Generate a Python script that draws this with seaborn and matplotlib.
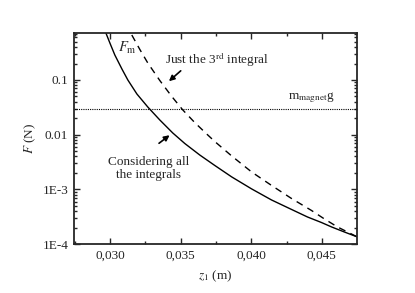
import matplotlib
matplotlib.use("Agg")
import matplotlib.pyplot as plt
import matplotlib.ticker as mticker
import numpy as np
import pandas as pd
import seaborn as sns

# values (z1 in m, F in N)
z_all = [0.02972, 0.03000, 0.03035, 0.03085, 0.03127, 0.03191, 0.03268,
         0.03353, 0.03445, 0.03530, 0.03636, 0.03742, 0.03862, 0.04003,
         0.04144, 0.04285, 0.04398, 0.04497, 0.04568, 0.04660, 0.04751]
f_all = [0.72, 0.474, 0.286, 0.159, 0.100, 0.0555, 0.0321,
         0.0186, 0.01074, 0.00690, 0.00425, 0.00274, 0.00169, 0.00102,
         0.00064, 0.00043, 0.000313, 0.000248, 0.000206, 0.000166, 0.000135]

z_third = [0.03155, 0.03212, 0.03268, 0.03353, 0.03438, 0.03516, 0.03600,
           0.03685, 0.03742, 0.03862, 0.04003, 0.04144, 0.04285, 0.04427,
           0.04518, 0.04610, 0.04751]
f_third = [0.665, 0.361, 0.205, 0.098, 0.0499, 0.0283, 0.0167,
           0.0103, 0.00751, 0.00408, 0.00208, 0.00118, 0.000682, 0.000411,
           0.000288, 0.000206, 0.000135]

m_magnet_g = 0.0295

y_ticks = [1e-4, 1e-3, 1e-2, 1e-1]
y_tick_labels = ["1E-4", "1E-3", "0.01", "0.1"]
x_ticks = [0.030, 0.035, 0.040, 0.045]
x_tick_labels = ["0,030", "0,035", "0,040", "0,045"]

df = pd.concat([
    pd.DataFrame({"z": z_all, "F": f_all, "curve": "all"}),
    pd.DataFrame({"z": z_third, "F": f_third, "curve": "third"}),
])

sns.set_style("ticks")
plt.rcParams["font.family"] = ["Liberation Serif", "DejaVu Serif"]
plt.rcParams["mathtext.fontset"] = "stix"

fs = 9.5
fig = plt.figure(figsize=(4.15, 2.93), dpi=100)
ax = fig.add_axes([0.178, 0.167, 0.682, 0.720])

sns.lineplot(data=df[df.curve == "all"], x="z", y="F", color="black",
             linewidth=1.0, ax=ax, legend=False)
sns.lineplot(data=df[df.curve == "third"], x="z", y="F", color="black",
             linewidth=1.0, ax=ax, legend=False)
ax.lines[1].set_dashes([5, 4])
ax.axhline(m_magnet_g, color="black", linestyle=(0, (1, 1)), linewidth=0.8)

ax.set_yscale("log")
ax.set_xlim(0.02745, 0.04748)
ax.set_ylim(1e-4, 0.72)

ax.set_yticks(y_ticks)
ax.set_yticklabels(y_tick_labels)
ax.yaxis.set_minor_locator(mticker.LogLocator(base=10, subs=np.arange(2, 10)))
ax.yaxis.set_minor_formatter(mticker.NullFormatter())
ax.set_xticks(x_ticks)
ax.set_xticklabels(x_tick_labels)
ax.xaxis.set_minor_locator(mticker.MultipleLocator(0.0025))

ax.tick_params(which="both", direction="in", top=True, right=True,
               labelsize=fs, width=1.0, pad=4)
ax.tick_params(which="major", length=4)
ax.tick_params(which="minor", length=2)
for s in ax.spines.values():
    s.set_linewidth(1.3)

ax.set_xlabel("$z_1$ (m)", fontsize=fs, labelpad=5)
ax.set_ylabel("$F$ (N)", fontsize=fs, labelpad=3)

ax.text(0.03056, 0.325, "$F_\\mathrm{m}$", fontsize=fs + 1, va="baseline")
ax.text(0.03388, 0.196, "Just the 3$^{\\rm rd}$ integral", fontsize=fs,
        va="baseline")
ax.text(0.04257, 0.045, "m$_\\mathrm{magnet}$g", fontsize=fs, va="baseline")
ax.text(0.03275, 0.00241, "Considering all\nthe integrals", fontsize=fs,
        ha="center", va="center", linespacing=1.15)

ax.annotate("", xy=(0.03403, 0.088), xytext=(0.03516, 0.159),
            arrowprops=dict(arrowstyle="-|>", color="black", lw=1.2,
                            mutation_scale=8))
ax.annotate("", xy=(0.03438, 0.0105), xytext=(0.03332, 0.00649),
            arrowprops=dict(arrowstyle="-|>", color="black", lw=1.2,
                            mutation_scale=8))

fig.savefig("out.png", dpi=100)
